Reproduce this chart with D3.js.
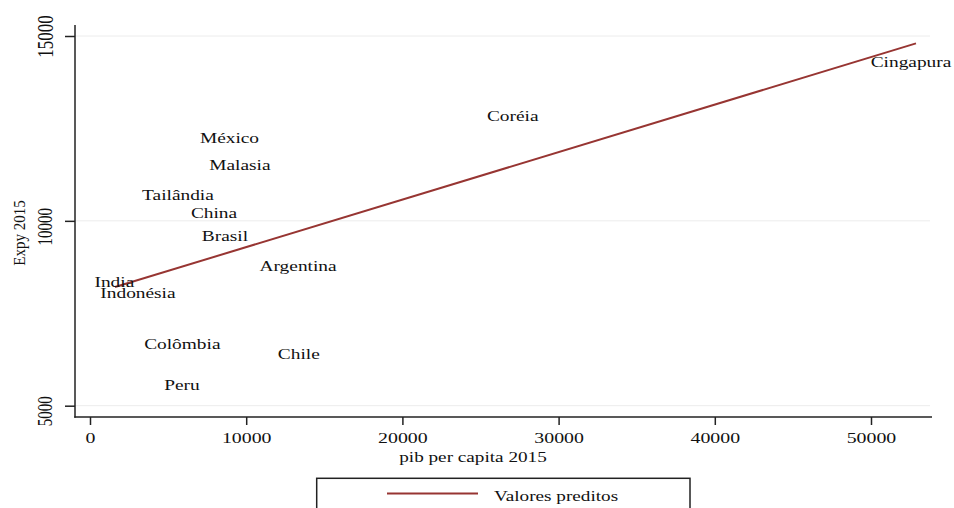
<!DOCTYPE html>
<html>
<head>
<meta charset="utf-8">
<script src="https://cdn.jsdelivr.net/npm/d3@7"></script>
<style>
  html, body { margin: 0; padding: 0; background: #fff; }
  svg { display: block; }
  text { font-family: "Liberation Serif", "Times New Roman", serif; fill: #111; }
</style>
</head>
<body>
<svg id="chart" width="954" height="508"></svg>
<script>
// ---- data ----
const countries = ["México", "Malasia", "Tailândia", "China", "Brasil", "India", "Indonésia",
                   "Argentina", "Colômbia", "Chile", "Peru", "Coréia", "Cingapura"];
const gdpPerCapita = [8930, 9600, 5630, 7940, 8640, 1560, 3070, 13320, 5910, 13370, 5890, 27060, 52560];
const expy = [12250, 11530, 10700, 10210, 9600, 8360, 8050, 8790, 6670, 6400, 5570, 12840, 14310];
const fittedX = [1600, 52880];
const fittedY = [8210, 14800];
const xTicks = [0, 10000, 20000, 30000, 40000, 50000];
const yTicks = [5000, 10000, 15000];
const xTitle = "pib per capita 2015";
const yTitle = "Expy 2015";
const legendLabel = "Valores preditos";

const svg = d3.select("#chart");
const x = d3.scaleLinear().domain([0, 50000]).range([90, 871]);
const y = d3.scaleLinear().domain([5000, 15000]).range([405.7, 36]);

const axisLeftX = 75, axisBottomY = 417, plotRight = 932, plotTop = 25;
const stretch = 1.28;
const lineColor = "#973532";

// gridlines
svg.append("g").selectAll("line").data(yTicks).join("line")
  .attr("x1", axisLeftX).attr("x2", plotRight - 2)
  .attr("y1", d => y(d)).attr("y2", d => y(d))
  .attr("stroke", "#ececec").attr("stroke-width", 1);

// x axis
const gx = svg.append("g").attr("transform", `translate(0,${axisBottomY})`)
  .call(d3.axisBottom(x).tickValues(xTicks).tickSize(8).tickFormat(d3.format("d")));
gx.select(".domain").remove();
gx.selectAll(".tick line").attr("stroke", "#222").attr("stroke-width", 1.5);
gx.selectAll(".tick text")
  .attr("y", null).attr("dy", null)
  .attr("font-family", "Liberation Serif").attr("font-size", 15.5)
  .attr("fill", "#111")
  .attr("transform", `translate(0,26) scale(${stretch},1)`);

// y axis
const gy = svg.append("g").attr("transform", `translate(${axisLeftX},0)`)
  .call(d3.axisLeft(y).tickValues(yTicks).tickSize(10).tickFormat(d3.format("d")));
gy.select(".domain").remove();
gy.selectAll(".tick line").attr("stroke", "#222").attr("stroke-width", 1.5);
gy.selectAll(".tick text")
  .attr("x", null).attr("dy", null)
  .attr("text-anchor", "middle")
  .attr("dominant-baseline", "central")
  .attr("fill", "#111")
  .attr("font-family", d => d === 15000 ? "Liberation Sans" : "Liberation Serif")
  .attr("font-size", d => d === 15000 ? 17 : 15)
  .attr("transform", d => d === 15000
      ? `translate(-30.5,0) rotate(-90) scale(1,1.4)`
      : `translate(-29.5,${d === 10000 ? 5.5 : 5}) rotate(-90) scale(1,1.4)`);

// axis lines
svg.append("line").attr("x1", axisLeftX).attr("x2", axisLeftX)
  .attr("y1", plotTop).attr("y2", axisBottomY + 0.75)
  .attr("stroke", "#222").attr("stroke-width", 1.5);
svg.append("line").attr("x1", axisLeftX - 0.75).attr("x2", plotRight)
  .attr("y1", axisBottomY).attr("y2", axisBottomY)
  .attr("stroke", "#222").attr("stroke-width", 1.5);

// axis titles
svg.append("text").text(xTitle)
  .attr("text-anchor", "middle").attr("dominant-baseline", "central")
  .attr("font-size", 15)
  .attr("transform", `translate(473,457) scale(${stretch},1)`);
svg.append("text").text(yTitle)
  .attr("text-anchor", "middle").attr("dominant-baseline", "central")
  .attr("font-size", 15)
  .attr("transform", `translate(19,233) rotate(-90) scale(1,1.05)`);

// fitted line
const fitted = fittedX.map((v, i) => [v, fittedY[i]]);
svg.append("path").datum(fitted)
  .attr("d", d3.line().x(d => x(d[0])).y(d => y(d[1])))
  .attr("fill", "none").attr("stroke", lineColor).attr("stroke-width", 2);

// country labels (marker labels centred on the points)
const pts = countries.map((c, i) => ({ c, gx: gdpPerCapita[i], ey: expy[i] }));
svg.append("g").selectAll("text").data(pts).join("text")
  .text(d => d.c)
  .attr("text-anchor", "middle")
  .attr("dominant-baseline", "central")
  .attr("font-size", 15.5)
  .attr("transform", d => `translate(${x(d.gx)},${y(d.ey)}) scale(1.25,1)`);

// legend
svg.append("rect").attr("x", 316.7).attr("y", 478.3).attr("width", 373.3).attr("height", 40)
  .attr("fill", "#fff").attr("stroke", "#222").attr("stroke-width", 1.5);
svg.append("line").attr("x1", 387).attr("x2", 478).attr("y1", 493.5).attr("y2", 493.5)
  .attr("stroke", lineColor).attr("stroke-width", 2);
svg.append("text").text(legendLabel)
  .attr("text-anchor", "start").attr("dominant-baseline", "central")
  .attr("font-size", 15)
  .attr("transform", `translate(494,496) scale(${stretch},1)`);
</script>
</body>
</html>
